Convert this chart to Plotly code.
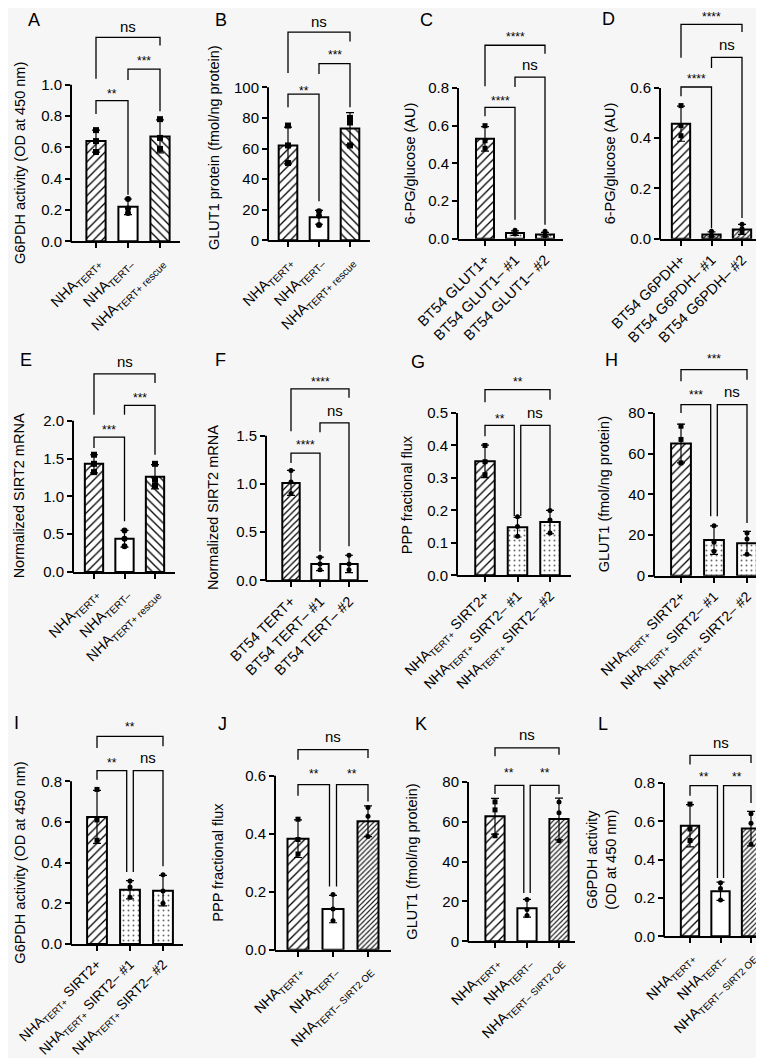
import plotly.graph_objects as go

W, H = 764, 1058
FONT = "Liberation Sans, Arial, Helvetica, sans-serif"
BG = "#f6f6f6"

# ---------------- data ----------------
NHA_RESCUE = ["NHA<sub>TERT+</sub>", "NHA<sub>TERT–</sub>", "NHA<sub>TERT+ rescue</sub>"]
GLUT1_KO = ["BT54 GLUT1+", "BT54 GLUT1– #1", "BT54 GLUT1– #2"]
G6PDH_KO = ["BT54 G6PDH+", "BT54 G6PDH– #1", "BT54 G6PDH– #2"]
TERT_KO = ["BT54 TERT+", "BT54 TERT– #1", "BT54 TERT– #2"]
SIRT2_KO = ["NHA<sub>TERT+</sub> SIRT2+", "NHA<sub>TERT+</sub> SIRT2– #1", "NHA<sub>TERT+</sub> SIRT2– #2"]
SIRT2_OE = ["NHA<sub>TERT+</sub>", "NHA<sub>TERT–</sub>", "NHA<sub>TERT– SIRT2 OE</sub>"]

a_mean = [0.64, 0.22, 0.67]
a_sd = [0.07, 0.05, 0.105]
a_pts = [[0.71, 0.64, 0.57], [0.27, 0.21, 0.18], [0.78, 0.66, 0.59]]
a_sig = ["**", "***", "ns"]

b_mean = [62, 15, 73]
b_sd = [12, 4.5, 10.5]
b_pts = [[75, 62, 50.5], [19, 16, 10], [80, 77, 62]]
b_sig = ["**", "***", "ns"]

c_mean = [0.53, 0.03, 0.022]
c_sd = [0.065, 0.012, 0.012]
c_pts = [[0.60, 0.52, 0.48], [0.045, 0.03, 0.025], [0.04, 0.02, 0.015]]
c_sig = ["****", "ns", "****"]

d_mean = [0.458, 0.017, 0.037]
d_sd = [0.07, 0.01, 0.02]
d_pts = [[0.53, 0.45, 0.41], [0.03, 0.015, 0.01], [0.058, 0.04, 0.025]]
d_sig = ["****", "ns", "****"]

e_mean = [1.43, 0.44, 1.26]
e_sd = [0.12, 0.11, 0.16]
e_pts = [[1.55, 1.43, 1.32], [0.55, 0.44, 0.34], [1.43, 1.22, 1.14]]
e_sig = ["***", "***", "ns"]

f_mean = [1.01, 0.17, 0.17]
f_sd = [0.13, 0.07, 0.09]
f_pts = [[1.14, 1.02, 0.90], [0.24, 0.17, 0.11], [0.26, 0.17, 0.11]]
f_sig = ["****", "ns", "****"]

g_mean = [0.351, 0.148, 0.164]
g_sd = [0.05, 0.03, 0.036]
g_pts = [[0.40, 0.35, 0.31], [0.18, 0.15, 0.12], [0.20, 0.17, 0.13]]
g_sig = ["**", "ns", "**"]

h_mean = [65, 17.5, 16]
h_sd = [9.5, 7, 5.8]
h_pts = [[73.5, 67, 55.5], [24.5, 16.5, 12], [21, 18, 10.5]]
h_sig = ["***", "ns", "***"]

i_mean = [0.625, 0.267, 0.262]
i_sd = [0.13, 0.045, 0.075]
i_pts = [[0.76, 0.61, 0.51], [0.31, 0.28, 0.23], [0.34, 0.26, 0.20]]
i_sig = ["**", "ns", "**"]

j_mean = [0.383, 0.140, 0.443]
j_sd = [0.065, 0.047, 0.053]
j_pts = [[0.45, 0.38, 0.33], [0.19, 0.14, 0.10], [0.49, 0.46, 0.39]]
j_sig = ["**", "**", "ns"]

k_mean = [62.8, 16.6, 61.4]
k_sd = [9, 4.5, 10.5]
k_pts = [[70, 66, 53], [21, 16, 13], [70, 64.5, 50.5]]
k_sig = ["**", "**", "ns"]

l_mean = [0.577, 0.235, 0.562]
l_sd = [0.11, 0.048, 0.09]
l_pts = [[0.69, 0.56, 0.50], [0.28, 0.25, 0.19], [0.64, 0.59, 0.48]]
l_sig = ["**", "**", "ns"]

# ---------------- panel layout specs ----------------
# geometry in pixels: xa = y-axis x, c0/c2 = first/last bar centre, xe = x-axis end,
# y0 = pixel of zero, yt = pixel of top tick (value T), top = panel top pixel
# brackets: (x1, x2, y_top, y_left_leg_bottom, y_right_leg_bottom, y_label)
PAT_H = dict(shape="/", size=6, solidity=0.22, fg="black")
PAT_B = dict(shape="\\", size=6, solidity=0.22, fg="black")
PAT_F = dict(shape="/", size=4.5, solidity=0.28, fg="black")
PAT_N = dict(shape="", size=6, solidity=0.2, fg="black")
PAT_D = dict(shape=".", size=5, solidity=0.12, fg="#6a6a6a")
PAT_X = dict(shape="/", size=3.5, solidity=0.35, fg="#222222")

panels = [
    dict(L="A", mean=a_mean, sd=a_sd, pts=a_pts, sig=a_sig, lab=NHA_RESCUE,
         yt_title="G6PDH activity (OD at 450 nm)", tick=[0, 0.2, 0.4, 0.6, 0.8, 1.0], fmt="{:.1f}",
         g=dict(xa=63, c0=88, c2=152, xe=172, y0=233.3, yt=76.7, T=1.0, top=0),
         br=[(0, 1, 0.898, 0.813, 0.298, 0.957), (1, 2, 1.10, 1.03, 0.83, 1.17), (0, 2, 1.302, 1.038, 1.251, 1.372)],
         pat=[PAT_H, PAT_N, PAT_B], sym=["square", "circle", "square"], ms=6,
         letter=(26, 12), tx=21, ty=None, off=0, lf=14.5),
    dict(L="B", mean=b_mean, sd=b_sd, pts=b_pts, sig=b_sig, lab=NHA_RESCUE,
         yt_title="GLUT1 protein (fmol/ng protein)", tick=[0, 20, 40, 60, 80, 100], fmt="{:.0f}",
         g=dict(xa=260, c0=280, c2=342, xe=362, y0=232.3, yt=79.3, T=100, top=0),
         br=[(0, 1, 95.6, 86.9, 25.5, 99.6), (1, 2, 115.5, 108.7, 86.9, 123), (0, 2, 136, 109.4, 130, 143)],
         pat=[PAT_H, PAT_N, PAT_B], sym=["square", "circle", "square"], ms=6,
         letter=(213, 12), tx=215, ty=139, off=0, lf=14.5),
    dict(L="C", mean=c_mean, sd=c_sd, pts=c_pts, sig=c_sig, lab=GLUT1_KO,
         yt_title="6-PG/glucose (AU)", tick=[0, 0.2, 0.4, 0.6, 0.8], fmt="{:.1f}",
         g=dict(xa=450, c0=477, c2=537, xe=555, y0=230.7, yt=80, T=0.8, top=0),
         br=[(0, 1, 0.697, 0.65, 0.10, 0.747), (1, 2, 0.858, 0.805, 0.074, 0.924), (0, 2, 1.027, 0.809, 0.982, 1.087)],
         pat=[PAT_H, PAT_D, PAT_D], sym=["square", "circle", "circle"], ms=5,
         letter=(418, 12), tx=411, ty=None, off=0, lf=14.5),
    dict(L="D", mean=d_mean, sd=d_sd, pts=d_pts, sig=d_sig, lab=G6PDH_KO,
         yt_title="6-PG/glucose (AU)", tick=[0, 0.2, 0.4, 0.6], fmt="{:.1f}",
         g=dict(xa=652, c0=673, c2=734, xe=757, y0=230.7, yt=80, T=0.6, top=0),
         br=[(0, 1, 0.604, 0.567, 0.042, 0.649), (1, 2, 0.722, 0.68, 0.082, 0.773), (0, 2, 0.853, 0.72, 0.823, 0.895)],
         pat=[PAT_H, PAT_F, PAT_X], sym=["square", "circle", "circle"], ms=5,
         letter=(600, 11), tx=611, ty=None, off=0, lf=14.5),
    dict(L="E", mean=e_mean, sd=e_sd, pts=e_pts, sig=e_sig, lab=NHA_RESCUE,
         yt_title="Normalized SIRT2 mRNA", tick=[0, 0.5, 1.0, 1.5, 2.0], fmt="{:.1f}",
         g=dict(xa=65, c0=86, c2=147, xe=167, y0=564, yt=412.7, T=2.0, top=340),
         br=[(0, 1, 1.784, 1.639, 0.67, 1.916), (1, 2, 2.203, 2.08, 1.55, 2.34), (0, 2, 2.62, 2.08, 2.50, 2.78)],
         pat=[PAT_H, PAT_N, PAT_B], sym=["square", "circle", "square"], ms=6,
         letter=(18, 352), tx=20, ty=None, off=0, lf=14.5),
    dict(L="F", mean=f_mean, sd=f_sd, pts=f_pts, sig=f_sig, lab=TERT_KO,
         yt_title="Normalized SIRT2 mRNA", tick=[0, 0.5, 1.0, 1.5], fmt="{:.1f}",
         g=dict(xa=258, c0=283, c2=341, xe=360, y0=572.3, yt=427.7, T=1.5, top=340),
         br=[(0, 1, 1.32, 1.218, 0.30, 1.436), (1, 2, 1.633, 1.536, 0.353, 1.761), (0, 2, 1.986, 1.547, 1.893, 2.093)],
         pat=[PAT_F, PAT_N, PAT_N], sym=["circle", "circle", "circle"], ms=5,
         letter=(212, 352), tx=214, ty=None, off=0, lf=14.5),
    dict(L="G", mean=g_mean, sd=g_sd, pts=g_pts, sig=g_sig, lab=SIRT2_KO,
         yt_title="PPP fractional flux", tick=[0, 0.1, 0.2, 0.3, 0.4, 0.5], fmt="{:.1f}",
         g=dict(xa=449, c0=477, c2=542, xe=563, y0=567.3, yt=405, T=0.5, top=340),
         br=[(0, 1, 0.462, 0.428, 0.182, 0.49), (1, 2, 0.462, 0.182, 0.197, 0.50), (0, 2, 0.572, 0.533, 0.541, 0.606)],
         pat=[PAT_H, PAT_D, PAT_D], sym=["square", "circle", "circle"], ms=5,
         letter=(410, 354), tx=408, ty=None, off=0.1, lf=14),
    dict(L="H", mean=h_mean, sd=h_sd, pts=h_pts, sig=h_sig, lab=SIRT2_KO,
         yt_title="GLUT1 (fmol/ng protein)", tick=[0, 20, 40, 60, 80], fmt="{:.0f}",
         g=dict(xa=646, c0=673, c2=739, xe=762, y0=567.7, yt=405, T=80, top=340),
         br=[(0, 1, 84.1, 80, 29.2, 90.3), (1, 2, 84.1, 29.2, 25.9, 90.7), (0, 2, 101.3, 95.6, 96.4, 107.9)],
         pat=[PAT_H, PAT_D, PAT_D], sym=["square", "circle", "circle"], ms=5,
         letter=(603, 352), tx=605, ty=None, off=0.1, lf=14),
    dict(L="I", mean=i_mean, sd=i_sd, pts=i_pts, sig=i_sig, lab=SIRT2_KO,
         yt_title="G6PDH activity (OD at 450 nm)", tick=[0, 0.2, 0.4, 0.6, 0.8], fmt="{:.1f}",
         g=dict(xa=63, c0=89, c2=155, xe=175, y0=936, yt=773.3, T=0.8, top=700),
         br=[(0, 1, 0.852, 0.808, 0.354, 0.907), (1, 2, 0.852, 0.354, 0.382, 0.915), (0, 2, 1.021, 0.964, 0.972, 1.084)],
         pat=[PAT_H, PAT_D, PAT_D], sym=["square", "circle", "circle"], ms=5,
         letter=(8, 715), tx=21, ty=None, off=0.1, lf=13.6),
    dict(L="J", mean=j_mean, sd=j_sd, pts=j_pts, sig=j_sig, lab=SIRT2_OE,
         yt_title="PPP fractional flux", tick=[0, 0.2, 0.4, 0.6], fmt="{:.1f}",
         g=dict(xa=267, c0=290, c2=360, xe=383, y0=941.7, yt=767.7, T=0.6, top=700),
         br=[(0, 1, 0.569, 0.531, 0.218, 0.617), (1, 2, 0.569, 0.218, 0.511, 0.617), (0, 2, 0.69, 0.655, 0.661, 0.736)],
         pat=[PAT_H, PAT_N, PAT_X], sym=["square", "circle", "circle"], ms=5,
         letter=(215, 716), tx=219, ty=None, off=0.1, lf=14),
    dict(L="K", mean=k_mean, sd=k_sd, pts=k_pts, sig=k_sig, lab=SIRT2_OE,
         yt_title="GLUT1 (fmol/ng protein)", tick=[0, 20, 40, 60, 80], fmt="{:.0f}",
         g=dict(xa=460, c0=487, c2=551, xe=567, y0=933.3, yt=774, T=80, top=700),
         br=[(0, 1, 78.3, 74, 24.3, 86.2), (1, 2, 78.3, 24.3, 74, 86.2), (0, 2, 97.1, 92.9, 93.7, 103.8)],
         pat=[PAT_H, PAT_N, PAT_X], sym=["square", "circle", "circle"], ms=5,
         letter=(413, 716), tx=413, ty=None, off=0.1, lf=14),
    dict(L="L", mean=l_mean, sd=l_sd, pts=l_pts, sig=l_sig, lab=SIRT2_OE,
         yt_title="G6PDH activity<br>(OD at 450 nm)", tick=[0, 0.2, 0.4, 0.6, 0.8], fmt="{:.1f}",
         g=dict(xa=656, c0=682, c2=743, xe=763, y0=928.3, yt=775, T=0.8, top=700),
         br=[(0, 1, 0.786, 0.734, 0.304, 0.849), (1, 2, 0.786, 0.304, 0.696, 0.849), (0, 2, 0.944, 0.896, 0.904, 1.012)],
         pat=[PAT_H, PAT_N, PAT_X], sym=["square", "circle", "circle"], ms=5,
         letter=(595, 716), tx=603, ty=None, off=0.1, lf=14),
]

TITLE_DX = -9  # rotated annotation box offset correction (px)

fig = go.Figure()
shapes, annotations = [], []
layout_axes = {}

for n, p in enumerate(panels, start=1):
    g = p["g"]
    xs = f"x{n}" if n > 1 else "x"
    ys = f"y{n}" if n > 1 else "y"
    xk = f"xaxis{n}" if n > 1 else "xaxis"
    yk = f"yaxis{n}" if n > 1 else "yaxis"
    s = (g["c2"] - g["c0"]) / 2.0
    xlo = -(g["c0"] - g["xa"]) / s
    xhi = 2 + (g["xe"] - g["c2"]) / s
    pxs = (g["y0"] - g["yt"]) / g["T"]
    ymax = (g["y0"] - g["top"]) / pxs

    layout_axes[xk] = dict(domain=[g["xa"] / W, g["xe"] / W], range=[xlo, xhi], anchor=ys,
                           automargin=False, fixedrange=True,
                           showline=True, linewidth=2, linecolor="black", showgrid=False, zeroline=False,
                           ticks="outside", ticklen=5, tickwidth=1.5, tickcolor="black",
                           tickvals=[0, 1, 2], ticktext=p["lab"], tickangle=-45,
                           tickfont=dict(size=p["lf"], color="black", family=FONT))
    layout_axes[yk] = dict(domain=[1 - g["y0"] / H, 1 - g["top"] / H], range=[0, ymax], anchor=xs,
                           automargin=False, fixedrange=True,
                           showline=False, showgrid=False, zeroline=False,
                           ticks="outside", ticklen=5, tickwidth=1.5, tickcolor="black",
                           tickvals=p["tick"], ticktext=[p["fmt"].format(v) for v in p["tick"]],
                           tickfont=dict(size=15, color="black", family=FONT))
    # y axis line only up to the top tick
    shapes.append(dict(type="line", xref="paper", yref="paper",
                       x0=g["xa"] / W, x1=g["xa"] / W,
                       y0=1 - (g["y0"] + 1) / H, y1=1 - g["yt"] / H,
                       line=dict(color="black", width=2)))

    fig.add_trace(go.Bar(
        x=[0, 1, 2], y=p["mean"], width=0.6, xaxis=xs, yaxis=ys,
        marker=dict(color="white", line=dict(color="black", width=2),
                    pattern=dict(shape=[q["shape"] for q in p["pat"]],
                                 size=[q["size"] for q in p["pat"]],
                                 solidity=[q["solidity"] for q in p["pat"]],
                                 fgcolor=[q["fg"] for q in p["pat"]],
                                 bgcolor="white", fillmode="replace")),
        error_y=dict(type="data", array=p["sd"], visible=True, color="black", thickness=1.2, width=4),
        showlegend=False, hoverinfo="skip"))

    for i, vals in enumerate(p["pts"]):
        fig.add_trace(go.Scatter(
            x=[i] * len(vals), y=vals, mode="markers", xaxis=xs, yaxis=ys,
            marker=dict(symbol=p["sym"][i], size=p["ms"], color="black"),
            showlegend=False, hoverinfo="skip", cliponaxis=False))

    for k, (x1, x2, ytop, yl, yr, ylab) in enumerate(p["br"]):
        ax1, ax2 = x1, x2
        if p["off"] and k == 0:
            ax2 = x2 - p["off"]
        if p["off"] and k == 1:
            ax1 = x1 + p["off"]
        fig.add_trace(go.Scatter(
            x=[ax1, ax1, ax2, ax2], y=[yl, ytop, ytop, yr], mode="lines", xaxis=xs, yaxis=ys,
            line=dict(color="black", width=1.3), showlegend=False, hoverinfo="skip", cliponaxis=False))
        lbl = p["sig"][k]
        is_ns = lbl == "ns"
        annotations.append(dict(x=(ax1 + ax2) / 2, y=ylab, xref=xs, yref=ys, text=lbl, showarrow=False,
                                xanchor="center", yanchor="middle", yshift=0 if is_ns else -3,
                                font=dict(size=15 if is_ns else 12, color="black", family=FONT)))

    # y axis title
    tyc = p["ty"] if p["ty"] is not None else (g["y0"] + g["yt"]) / 2
    annotations.append(dict(x=(p["tx"] + TITLE_DX) / W, y=1 - tyc / H, xref="paper", yref="paper",
                            text=p["yt_title"], textangle=-90, showarrow=False,
                            xanchor="center", yanchor="middle",
                            font=dict(size=14.5, color="black", family=FONT)))
    # panel letter
    annotations.append(dict(x=p["letter"][0] / W, y=1 - p["letter"][1] / H, xref="paper", yref="paper",
                            text=p["L"], showarrow=False, xanchor="center", yanchor="middle",
                            font=dict(size=18, color="black", family=FONT)))

fig.update_layout(
    template="none",
    width=W, height=H, margin=dict(l=0, r=0, t=0, b=0, autoexpand=False),
    paper_bgcolor=BG, plot_bgcolor="rgba(0,0,0,0)",
    font=dict(family=FONT, color="black"),
    shapes=shapes, annotations=annotations, bargap=0.4,
    **layout_axes)

fig.write_html("out.html")
